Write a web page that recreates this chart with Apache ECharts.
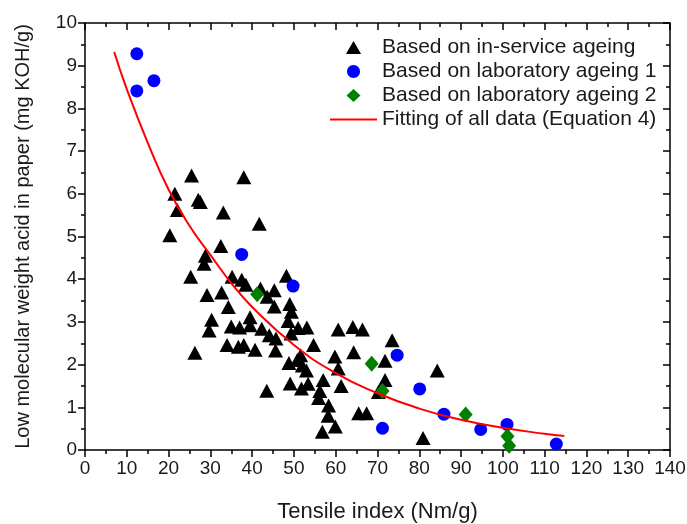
<!DOCTYPE html>
<html><head><meta charset="utf-8">
<script src="https://cdn.jsdelivr.net/npm/echarts@6/dist/echarts.min.js"></script>
<style>html,body{margin:0;padding:0;background:#fff}#c{width:687px;height:524px}</style>
</head><body><div id="c"></div>
<script>
const seriesNames = ['Based on in-service ageing','Based on laboratory ageing 1','Based on laboratory ageing 2','Fitting of all data (Equation 4)'];
const xTicks = [0,10,20,30,40,50,60,70,80,90,100,110,120,130,140];
const yTicks = [0,1,2,3,4,5,6,7,8,9,10];
const inServiceX = [21.5,25.5,38.0,27.1,27.6,22.1,33.1,41.7,20.3,32.5,28.8,28.5,25.3,35.2,37.5,38.5,48.2,29.2,32.7,42.0,45.3,43.6,34.3,45.3,49.0,49.4,30.3,39.5,48.6,29.7,35.0,37.0,39.5,42.3,44.1,45.7,49.3,51.0,53.1,60.6,64.1,66.4,73.5,34.0,36.7,38.0,40.7,45.6,54.7,26.3,59.8,64.3,71.8,51.6,48.8,50.8,52.0,53.0,60.6,57.0,71.8,61.3,49.1,51.8,53.4,43.5,56.2,55.9,58.3,58.2,65.5,67.4,59.9,56.8,70.2,84.3,80.9];
const inServiceY = [6.00,6.43,6.39,5.86,5.81,5.62,5.56,5.30,5.03,4.78,4.55,4.36,4.06,4.06,3.99,3.87,4.08,3.63,3.69,3.78,3.74,3.59,3.35,3.36,3.42,3.24,3.05,3.11,3.02,2.80,2.89,2.87,2.92,2.84,2.69,2.61,2.73,2.86,2.87,2.82,2.88,2.82,2.57,2.46,2.42,2.46,2.35,2.33,2.46,2.28,2.19,2.29,2.09,2.22,2.04,2.11,1.98,1.86,1.91,1.64,1.64,1.50,1.56,1.44,1.55,1.39,1.38,1.22,1.04,0.80,0.86,0.86,0.55,0.43,1.36,1.86,0.28];
const lab1X = [12.4,16.5,12.4,37.5,49.8,71.2,74.7,80.1,85.9,94.7,101.0,112.8];
const lab1Y = [9.28,8.65,8.41,4.58,3.84,0.51,2.22,1.43,0.84,0.48,0.60,0.14];
const lab2X = [41.2,68.6,71.2,91.1,101.1,101.5];
const lab2Y = [3.65,2.02,1.38,0.83,0.32,0.10];
const fitX = [7,10,15,20,25,30,35,40,50,60,70,80,90,100,110,114.7];
const fitY = [9.32,8.45,7.2,6.1,5.25,4.57,3.91,3.35,2.46,1.80,1.33,0.97,0.71,0.52,0.38,0.33];

const zip = (a,b)=>a.map((v,i)=>[v,b[i]]);
const FONT = 'Liberation Sans';
const TXT = '#1a1a1a';
const axisLine = {show:true,onZero:false,lineStyle:{color:'#000',width:1.5}};
const tick = (inside)=>({show:true,inside,length:7,lineStyle:{color:'#000',width:1.5}});
const minor = {show:true,splitNumber:2,length:4,lineStyle:{color:'#000',width:1.5}};
const icons = [
  'path://M0,12 L7,0 L14,12 Z',
  'path://M10,5 C10,7.76 7.76,10 5,10 C2.24,10 0,7.76 0,5 C0,2.24 2.24,0 5,0 C7.76,0 10,2.24 10,5 Z',
  'path://M7,0 L14,6.5 L7,13 L0,6.5 Z',
  'path://M0,0 L47,0 L47,2 L0,2 Z'
];
const chart = echarts.init(document.getElementById('c'),null,{renderer:'canvas'});
const xBase = {type:'value',min:0,max:140,interval:10,splitLine:{show:false},axisLine,minorTick:minor};
const yBase = {type:'value',min:0,max:10,interval:1,splitLine:{show:false},axisLine,minorTick:minor};
chart.setOption({
  animation:false,
  backgroundColor:'#fff',
  grid:{left:85,right:17,top:23,bottom:74,containLabel:false,outerBoundsMode:'none'},
  legend:{
    orient:'vertical',left:325,top:32,itemWidth:47,itemHeight:13,itemGap:3,symbolKeepAspect:true,
    textStyle:{fontFamily:FONT,fontSize:21,color:TXT},
    data:seriesNames.map((n,i)=>({name:n,icon:icons[i]}))
  },
  xAxis:[
    Object.assign({},xBase,{position:'bottom',name:'Tensile index (Nm/g)',nameLocation:'middle',nameGap:51,
      nameTextStyle:{fontFamily:FONT,fontSize:22,color:TXT},
      axisTick:tick(false),
      axisLabel:{fontFamily:FONT,fontSize:19,color:TXT,margin:9,formatter:v=>xTicks.includes(v)?String(v):''}}),
    Object.assign({},xBase,{position:'top',axisTick:tick(true),axisLabel:{show:false}})
  ],
  yAxis:[
    Object.assign({},yBase,{position:'left',name:'Low molecular weight acid in paper (mg KOH/g)',nameLocation:'middle',nameGap:52,
      nameTextStyle:{fontFamily:FONT,fontSize:20,color:TXT},
      axisTick:tick(false),
      axisLabel:{fontFamily:FONT,fontSize:19,color:TXT,margin:8,formatter:v=>yTicks.includes(v)?String(v):''}}),
    Object.assign({},yBase,{position:'right',axisTick:tick(true),axisLabel:{show:false}})
  ],
  series:[
    {name:seriesNames[0],type:'scatter',symbol:'triangle',symbolSize:[15,14],itemStyle:{color:'#000',opacity:1},data:zip(inServiceX,inServiceY),z:3},
    {name:seriesNames[1],type:'scatter',symbol:'circle',symbolSize:13,itemStyle:{color:'#0000ff',opacity:1},data:zip(lab1X,lab1Y),z:4},
    {name:seriesNames[2],type:'scatter',symbol:'diamond',symbolSize:[14,16],itemStyle:{color:'#008000',opacity:1},data:zip(lab2X,lab2Y),z:5},
    {name:seriesNames[3],type:'line',smooth:true,symbol:'none',showSymbol:false,lineStyle:{color:'#ff0000',width:2},itemStyle:{color:'#ff0000'},data:zip(fitX,fitY),z:6}
  ]
});
</script></body></html>
